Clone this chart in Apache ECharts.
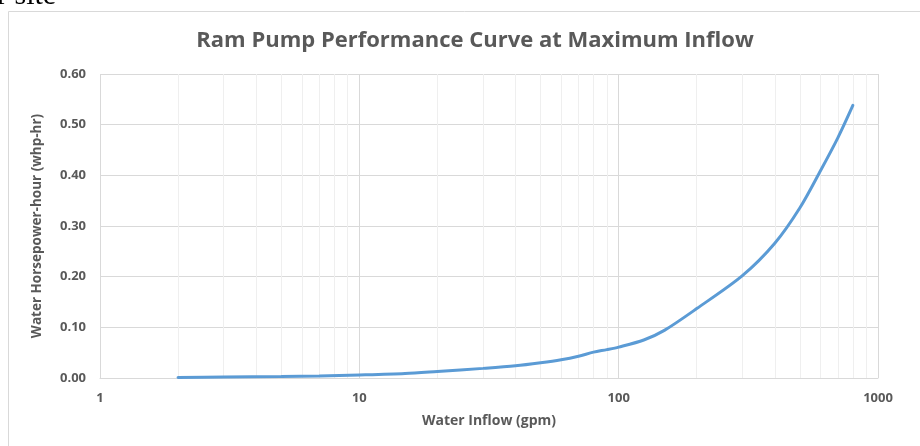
<!DOCTYPE html>
<html>
<head>
<meta charset="utf-8">
<script src="https://cdn.jsdelivr.net/npm/echarts@6/dist/echarts.min.js"></script>
<style>html,body{margin:0;padding:0;background:#fff;}#c{width:920px;height:446px;}</style>
</head>
<body>
<div id="c"></div>
<script>
const inflow = [2, 3, 5, 7, 10, 15, 20, 30, 40, 50, 60, 70, 80, 90, 100, 125, 150, 200, 300, 400, 500, 600, 700, 800];
const whp = [0.001, 0.002, 0.003, 0.004, 0.006, 0.009, 0.013, 0.019, 0.024, 0.030, 0.036, 0.043, 0.051, 0.056, 0.061, 0.075, 0.094, 0.137, 0.202, 0.266, 0.336, 0.409, 0.474, 0.538];
const minorX = [2,3,4,5,6,7,8,9,20,30,40,50,60,70,80,90,200,300,400,500,600,700,800,900];
const yTicks = [0, 0.1, 0.2, 0.3, 0.4, 0.5, 0.6];

const chart = echarts.init(document.getElementById('c'), null, {renderer: 'canvas'});
const gray = '#595959';
chart.setOption({
  animation: false,
  title: {
    text: 'Ram Pump Performance Curve at Maximum Inflow',
    left: 470, top: 25, textAlign: 'center',
    textStyle: {fontFamily: 'Open Sans', fontSize: 22, fontWeight: 'bold', color: gray}
  },
  graphic: [
    {type: 'rect', shape: {x: 8.5, y: 11.5, width: 940, height: 460}, style: {fill: null, stroke: '#d9d9d9', lineWidth: 1}, silent: true, z: -10},
    {type: 'text', left: -3, top: -19, style: {text: 'r site', font: '30px "Liberation Serif"', fill: '#000'}}
  ],
  grid: {left: 100, right: 42, top: 74, bottom: 68, containLabel: false},
  xAxis: {
    type: 'log', logBase: 10, min: 1, max: 1000,
    name: 'Water Inflow (gpm)', nameLocation: 'middle', nameGap: 36,
    nameTextStyle: {fontFamily: 'Open Sans', fontSize: 14, fontWeight: 'bold', color: gray},
    axisLine: {show: true, lineStyle: {color: '#d9d9d9'}},
    axisTick: {show: false},
    axisLabel: {fontFamily: 'Open Sans', fontSize: 13, fontWeight: 'bold', color: gray, margin: 14,
      formatter: v => String(Math.round(v))},
    splitLine: {show: true, lineStyle: {color: '#d9d9d9', width: 1}}
  },
  yAxis: {
    type: 'value', min: 0, max: 0.6, interval: 0.1,
    name: 'Water Horsepower-hour (whp-hr)', nameLocation: 'middle', nameGap: 56,
    nameTextStyle: {fontFamily: 'Open Sans', fontSize: 13.5, fontWeight: 'bold', color: gray},
    axisLine: {show: false}, axisTick: {show: false},
    axisLabel: {fontFamily: 'Open Sans', fontSize: 13, fontWeight: 'bold', color: gray, margin: 14,
      formatter: v => v.toFixed(2)},
    splitLine: {show: true, lineStyle: {color: '#d9d9d9', width: 1}}
  },
  series: [{
    type: 'line',
    data: inflow.map((x, i) => [x, whp[i]]),
    smooth: 0.3,
    showSymbol: false,
    lineStyle: {color: '#5b9bd5', width: 3, cap: 'round'},
    itemStyle: {color: '#5b9bd5'},
    z: 5,
    markLine: {
      silent: true, symbol: 'none', animation: false,
      label: {show: false},
      lineStyle: {color: '#efefef', width: 1, type: 'solid'},
      data: minorX.map(v => ({xAxis: v}))
    }
  }]
});
</script>
</body>
</html>
